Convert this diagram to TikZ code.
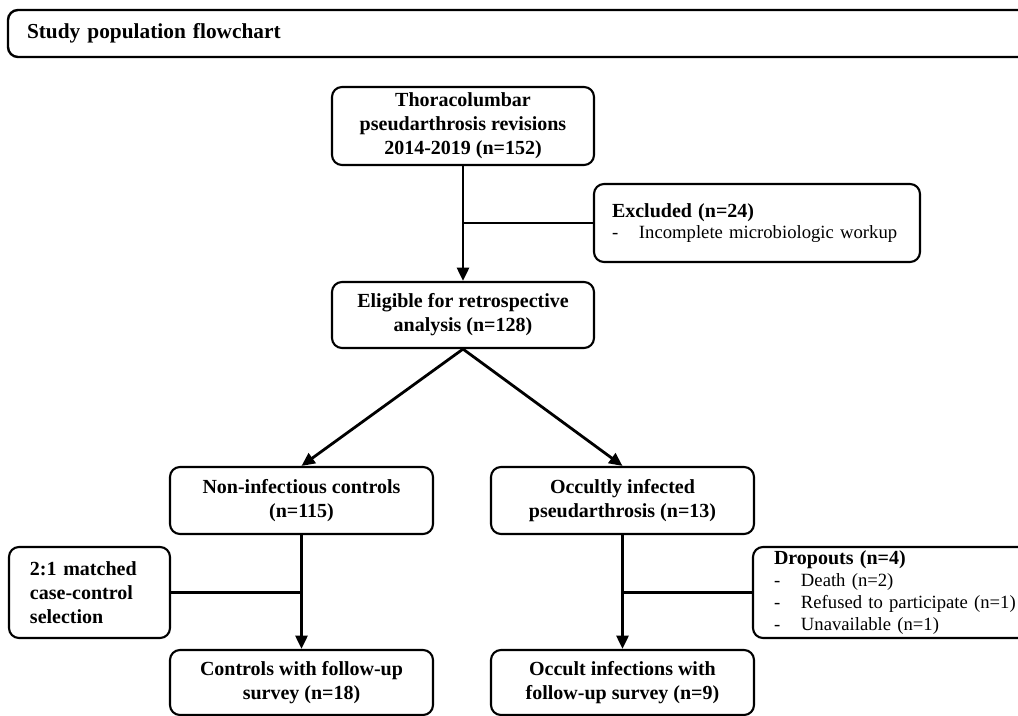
\documentclass[tikz,border=0pt]{standalone}
\usepackage{fontspec}
\setmainfont{Liberation Serif}
\usetikzlibrary{arrows.meta}

\tikzset{
  stagebox/.style={draw, rounded corners=7.5pt, line width=1.6pt, align=center, inner sep=0pt, font=\fontsize{15pt}{18pt}\selectfont\bfseries},
  sidebox/.style={stagebox, align=left, font=\fontsize{14pt}{16.3pt}\selectfont},
  link/.style={line width=2.1pt},
  flow/.style={link, -{Triangle[length=10pt,width=9pt]}},
}
\newcommand{\hdr}[1]{{\fontsize{15pt}{18pt}\selectfont\bfseries #1}}
\newcommand{\itm}[1]{\makebox[20.25pt][l]{-}#1}

\begin{document}
\begin{tikzpicture}[x=0.75pt,y=0.75pt,yscale=-1,xscale=1]
\useasboundingbox (0,0) rectangle (1018,716);

%Title bar
\node [stagebox, line width=1.8pt, align=left, minimum width=780pt, minimum height=35.25pt, inner xsep=14.25pt, text width=751.5pt, font=\fontsize{16pt}{19pt}\selectfont\bfseries] (title) at (528,33.5) {Study population flowchart};

%Rounded Rect: cohort
\node [stagebox, minimum width=196.5pt, minimum height=58.5pt] (thor) at (463,126) {Thoracolumbar\\pseudarthrosis revisions\\2014-2019 (n=152)};
%Rounded Rect: excluded
\node [sidebox, minimum width=244.5pt, minimum height=58.5pt, inner xsep=13.5pt, text width=217.5pt] (excl) at (757,223) {\hdr{Excluded (n=24)}\\\itm{Incomplete microbiologic workup}};
%Rounded Rect: eligible
\node [stagebox, minimum width=196.5pt, minimum height=49.5pt] (elig) at (463,315) {Eligible for retrospective\\analysis (n=128)};

%Rounded Rect: two groups
\node [stagebox, minimum width=197.25pt, minimum height=50.25pt] (noninf) at (301.5,500.5) {Non-infectious controls\\(n=115)};
\node [stagebox, minimum width=197.25pt, minimum height=50.25pt] (occ) at (622.5,500.5) {Occultly infected\\pseudarthrosis (n=13)};

%Rounded Rect: side boxes
\node [stagebox, align=left, minimum width=120.75pt, minimum height=68.25pt, inner xsep=15.75pt, text width=89.25pt] (match) at (89.5,592.5) {2:1 matched\\case-control\\selection};
\node [sidebox, minimum width=219pt, minimum height=68.25pt, inner xsep=15.75pt, text width=187.5pt] (drop) at (899,592.5) {\hdr{Dropouts (n=4)}\\\itm{Death (n=2)}\\\itm{Refused to participate (n=1)}\\\itm{Unavailable (n=1)}};

%Rounded Rect: follow-up
\node [stagebox, minimum width=197.25pt, minimum height=48.75pt] (ctrl) at (301.5,682.5) {Controls with follow-up\\survey (n=18)};
\node [stagebox, minimum width=197.25pt, minimum height=48.75pt] (occfu) at (622.5,682.5) {Occult infections with\\follow-up survey (n=9)};

%Straight Lines
\draw [flow] (thor) -- (elig);
\draw [link] (thor.south |- excl.west) -- (excl.west);
\draw [flow] (elig.south) -- (noninf.north);
\draw [flow] (elig.south) -- (occ.north);
\draw [flow] (noninf) -- (ctrl);
\draw [link] (match.east) -- (noninf.south |- match.east);
\draw [flow] (occ) -- (occfu);
\draw [link] (drop.west) -- (occ.south |- drop.west);

\end{tikzpicture}
\end{document}
